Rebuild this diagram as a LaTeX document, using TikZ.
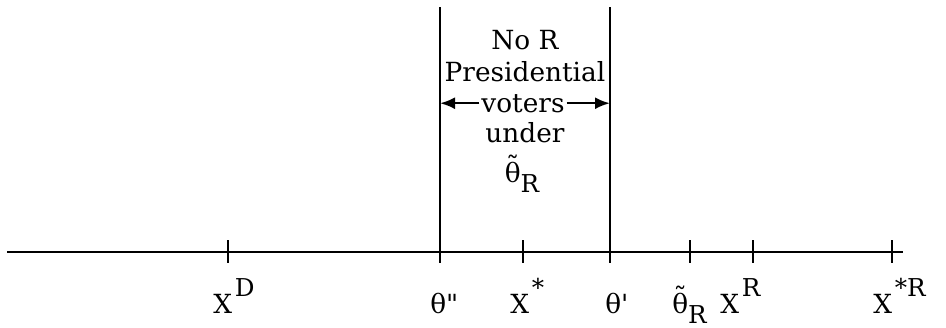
\documentclass[tikz,border=0pt]{standalone}
\usepackage{fontspec}
\setmainfont{DejaVu Serif}
\usetikzlibrary{arrows.meta}
\newcommand{\hi}[1]{\hspace{1.5pt}\raisebox{0.62em}{\fontsize{14}{14}\selectfont #1}}
\newcommand{\lo}[1]{\raisebox{-0.4em}{\fontsize{14}{14}\selectfont #1}}
\newcommand{\tth}{\ooalign{θ\cr\hidewidth\raisebox{0.24em}{˜}\hidewidth\cr}}
\tikzset{
  txt/.style={font=\fontsize{15}{18}\selectfont, inner sep=0pt, anchor=base},
  lab/.style={font=\fontsize{15}{18}\selectfont, inner sep=0pt, anchor=base west},
  tick/.style={line width=1.6pt},
}
\begin{document}
\begin{tikzpicture}[x=0.2mm, y=-0.2mm]
    \useasboundingbox (0,0) rectangle (946,328);
    % axe
    \draw[line width=1.6pt] (7,252) -- (903,252);
    % traits verticaux
    \draw[line width=1.1pt] (440,7) coordinate (gtop) -- (440,252) coordinate (gbot);
    \draw[line width=1.1pt] (610,7) coordinate (dtop) -- (610,252) coordinate (dbot);
    % graduations
    \foreach \x in {228,440,523,610,690,753,892}
        \draw[tick] (\x,240) -- (\x,263);
    % texte du milieu
    \node[txt] (noR) at (525,50) {No R};
    \node[txt] (pres) at (525,81) {Presidential};
    \node[txt, inner xsep=1pt] (voters) at (523,112) {voters};
    \node[txt] (under) at (525,142) {under};
    \node[txt] (thR) at (522,182) {\tth\lo{R}};
    \draw[-{Latex[length=3mm,width=2.4mm]}, line width=1.4pt] (voters.west) -- (voters.west -| gtop);
    \draw[-{Latex[length=3mm,width=2.4mm]}, line width=1.4pt] (voters.east) -- (voters.east -| dtop);
    % labels
    \node[lab] (xD) at (213,313) {X\hi{D}};
    \node[lab] (th2) at (430,313) {θ\textquotedbl};
    \node[lab] (xs) at (510,313) {X\hi{*}};
    \node[lab] (th1) at (605,313) {θ\textquotesingle};
    \node[lab] (thR2) at (672,313) {\tth\lo{R}};
    \node[lab] (xR) at (720,313) {X\hi{R}};
    \node[lab] (xsR) at (873,313) {X\hi{*R}};
\end{tikzpicture}
\end{document}
